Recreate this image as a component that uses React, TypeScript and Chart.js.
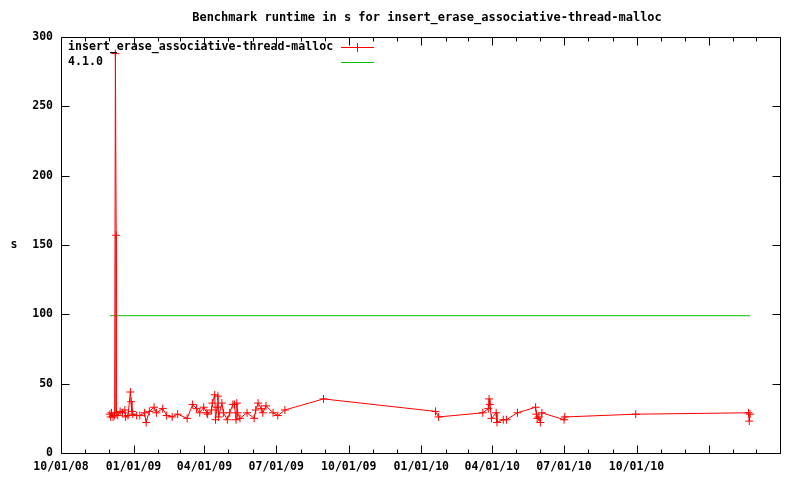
import React, { useEffect, useRef } from 'react';
import { Chart, registerables } from 'chart.js';

Chart.register(...registerables);

const chartTitle = 'Benchmark runtime in s for insert_erase_associative-thread-malloc';
const yAxisLabel = 's';
const seriesName = 'insert_erase_associative-thread-malloc';
const refName = '4.1.0';

const seriesDates = [
  '2008-12-02', '2008-12-03', '2008-12-04', '2008-12-06', '2008-12-08', '2008-12-09', '2008-12-10', '2008-12-10',
  '2008-12-12', '2008-12-15', '2008-12-18', '2008-12-21', '2008-12-22', '2008-12-25', '2008-12-28', '2008-12-29',
  '2008-12-30', '2008-12-31', '2009-01-05', '2009-01-09', '2009-01-15', '2009-01-17', '2009-01-21', '2009-01-27',
  '2009-01-30', '2009-02-07', '2009-02-12', '2009-02-19', '2009-02-26', '2009-03-10', '2009-03-17', '2009-03-22',
  '2009-03-26', '2009-03-31', '2009-04-04', '2009-04-05', '2009-04-10', '2009-04-11', '2009-04-14', '2009-04-15',
  '2009-04-17', '2009-04-18', '2009-04-19', '2009-04-23', '2009-04-25', '2009-04-30', '2009-05-03', '2009-05-07',
  '2009-05-09', '2009-05-11', '2009-05-12', '2009-05-13', '2009-05-16', '2009-05-25', '2009-06-03', '2009-06-05',
  '2009-06-08', '2009-06-12', '2009-06-14', '2009-06-18', '2009-06-27', '2009-07-03', '2009-07-12', '2009-08-30',
  '2010-01-19', '2010-01-23', '2010-03-20', '2010-03-27', '2010-03-28', '2010-03-29', '2010-03-31', '2010-04-06',
  '2010-04-07', '2010-04-15', '2010-04-19', '2010-05-03', '2010-05-26', '2010-05-27', '2010-05-28', '2010-05-30',
  '2010-06-01', '2010-06-03', '2010-07-01', '2010-07-02', '2010-09-30', '2011-02-20', '2011-02-21', '2011-02-22',
];
const seriesValues = [
  28, 26, 29, 26, 27, 288, 157, 29,
  27, 30, 29, 31, 26, 27, 44, 37,
  30, 28, 27, 27, 29, 22, 30, 33,
  29, 32, 27, 26, 28, 25, 35, 32,
  29, 33, 29, 28, 31, 36, 42, 24,
  33, 41, 26, 36, 29, 24, 29, 35,
  35, 24, 36, 29, 25, 29, 25, 31,
  36, 32, 29, 34, 29, 27, 31, 39,
  30, 26, 29, 32, 39, 35, 25, 29,
  22, 24, 24, 29, 33, 28, 25, 26,
  22, 29, 24, 26, 28, 29, 23, 28,
];

const refDates = ['2008-12-02', '2011-02-22'];
const refValues = [99, 99];

const xMinDate = '2008-10-01';
const xMaxDate = '2011-04-01';
const xTickDates = ['2008-10-01', '2009-01-01', '2009-04-01', '2009-07-01', '2009-10-01', '2010-01-01', '2010-04-01', '2010-07-01', '2010-10-01'];
const xUnlabeledTickDates = ['2011-01-01'];
const yTicks = [0, 50, 100, 150, 200, 250, 300];

const RED = '#ff0000';
const GREEN = '#00c000';
const FONT = '"DejaVu Sans Mono", "Liberation Mono", monospace';

const DAY = 86400000;
const ORIGIN = Date.UTC(2008, 9, 1);
const toDay = (s: string) => {
  const [y, m, d] = s.split('-').map(Number);
  return Math.round((Date.UTC(y, m - 1, d) - ORIGIN) / DAY);
};
const fmtDate = (s: string) => {
  const [y, m, d] = s.split('-');
  return `${m}/${d}/${y.slice(2)}`;
};
const tickLabelByDay: Record<number, string> = {};
xTickDates.forEach((s) => { tickLabelByDay[toDay(s)] = fmtDate(s); });

const monthlyDays = (() => {
  const out: number[] = [];
  const end = toDay(xMaxDate);
  for (let y = 2008, m = 9; ; ) {
    const day = Math.round((Date.UTC(y, m, 1) - ORIGIN) / DAY);
    if (day > end) break;
    out.push(day);
    m++;
    if (m > 11) { m = 0; y++; }
  }
  return out;
})();

const framePlugin = {
  id: 'gnuFrame',
  beforeDatasetsDraw(chart: any) {
    const { ctx, chartArea, scales } = chart;
    const { left, right, top, bottom } = chartArea;
    const x = scales.x;
    const y = scales.y;
    ctx.save();
    ctx.strokeStyle = '#000';
    ctx.lineWidth = 1;
    const L = Math.round(left) + 0.5;
    const R = Math.round(right) + 0.5;
    const T = Math.round(top) + 0.5;
    const B = Math.round(bottom) + 0.5;
    ctx.beginPath();
    ctx.rect(L, T, R - L, B - T);
    ctx.stroke();
    ctx.beginPath();
    yTicks.forEach((v) => {
      const py = Math.round(y.getPixelForValue(v)) + 0.5;
      ctx.moveTo(L, py); ctx.lineTo(L + 8, py);
      ctx.moveTo(R, py); ctx.lineTo(R - 8, py);
    });
    const majors = [...xTickDates, ...xUnlabeledTickDates].map(toDay);
    monthlyDays.forEach((d) => {
      const len = majors.includes(d) ? 8 : 4;
      const px = Math.round(x.getPixelForValue(d)) + 0.5;
      ctx.moveTo(px, B); ctx.lineTo(px, B - len);
      ctx.moveTo(px, T); ctx.lineTo(px, T + len);
    });
    ctx.stroke();
    ctx.restore();
  },
  afterDraw(chart: any) {
    const { ctx, chartArea } = chart;
    const { left, top } = chartArea;
    ctx.save();
    ctx.fillStyle = '#000';
    ctx.font = `bold 12px ${FONT}`;
    ctx.textAlign = 'center';
    ctx.textBaseline = 'middle';
    ctx.fillText(chartTitle, 427, 18);
    ctx.font = `bold 11.5px ${FONT}`;
    ctx.fillText(yAxisLabel, 14, 245);
    // legend
    ctx.textAlign = 'left';
    ctx.font = `bold 11.6px ${FONT}`;
    const lx = left + 7;
    const ly1 = Math.round(top + 10);
    const ly2 = Math.round(top + 25);
    ctx.fillText(seriesName, lx, ly1);
    ctx.fillText(refName, lx, ly2);
    ctx.fillStyle = RED;
    ctx.fillRect(341, ly1, 33, 1);
    ctx.fillRect(357, ly1 - 4, 1, 9);
    ctx.fillStyle = GREEN;
    ctx.fillRect(341, ly2, 33, 1);
    ctx.restore();
  },
};

export default function App() {
  const canvasRef = useRef<HTMLCanvasElement | null>(null);

  useEffect(() => {
    const canvas = canvasRef.current;
    if (!canvas) return;
    const chart = new Chart(canvas, {
      type: 'line',
      data: {
        datasets: [
          {
            label: seriesName,
            data: seriesDates.map((d, i) => ({ x: toDay(d), y: seriesValues[i] })),
            borderColor: RED,
            backgroundColor: RED,
            borderWidth: 1,
            pointStyle: 'cross',
            pointRadius: 4,
            pointBorderColor: RED,
            pointBorderWidth: 1,
            tension: 0,
            fill: false,
          },
          {
            label: refName,
            data: refDates.map((d, i) => ({ x: toDay(d), y: refValues[i] })),
            borderColor: GREEN,
            backgroundColor: GREEN,
            borderWidth: 1,
            pointRadius: 0,
            tension: 0,
            fill: false,
          },
        ],
      },
      options: {
        animation: false,
        responsive: false,
        maintainAspectRatio: false,
        layout: { padding: { top: 37, right: 20, left: 0, bottom: 0 } },
        plugins: {
          legend: { display: false },
          title: { display: false },
          tooltip: { enabled: false },
        },
        scales: {
          x: {
            type: 'linear',
            min: toDay(xMinDate),
            max: toDay(xMaxDate),
            grid: { display: false, drawTicks: false },
            border: { display: false },
            afterBuildTicks: (scale: any) => {
              scale.ticks = xTickDates.map((s) => ({ value: toDay(s) }));
            },
            afterFit: (scale: any) => { scale.height = 27; },
            ticks: {
              autoSkip: false,
              maxRotation: 0,
              padding: 7,
              color: '#000',
              font: { family: FONT, size: 11.5, weight: 'bold' },
              callback: (v: any) => tickLabelByDay[Number(v)] ?? '',
            },
          },
          y: {
            type: 'linear',
            min: 0,
            max: 300,
            grid: { display: false, drawTicks: false },
            border: { display: false },
            afterBuildTicks: (scale: any) => {
              scale.ticks = yTicks.map((v) => ({ value: v }));
            },
            afterFit: (scale: any) => { scale.width = 61; },
            ticks: {
              padding: 8,
              color: '#000',
              font: { family: FONT, size: 11.5, weight: 'bold' },
            },
          },
        },
      },
      plugins: [framePlugin],
    } as any);
    return () => chart.destroy();
  }, []);

  return (
    <div style={{ position: 'absolute', left: 0, top: 0, width: 800, height: 480, background: '#fff' }}>
      <canvas ref={canvasRef} width={800} height={480} style={{ width: 800, height: 480 }} />
    </div>
  );
}
